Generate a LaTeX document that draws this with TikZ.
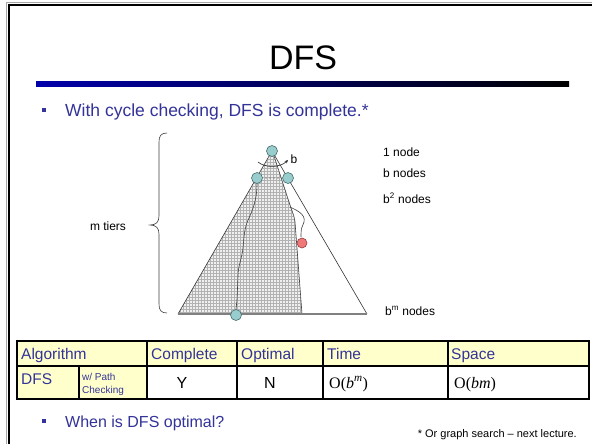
\documentclass[tikz,border=0pt]{standalone}
\usepackage{fontspec}
\setmainfont{Liberation Sans}
\newfontfamily\tnr{Liberation Serif}
\usetikzlibrary{arrows.meta,patterns}
\definecolor{txtblue}{RGB}{51,51,153}
\definecolor{cellyellow}{RGB}{255,255,204}
\definecolor{nodeteal}{RGB}{153,204,204}
\definecolor{nodeedge}{RGB}{70,110,110}
\definecolor{nodered}{RGB}{240,120,120}
\definecolor{rededge}{RGB}{150,60,60}
\definecolor{rulestart}{RGB}{0,0,170}
\begin{document}
\begin{tikzpicture}[x=1pt,y=-1pt,
  lbl/.style={inner sep=0, font=\fontsize{12}{14}\selectfont},
  bluetxt/.style={inner sep=0, text=txtblue},
  bulletsq/.style={fill=txtblue, minimum size=4.5pt, inner sep=0},
  searchnode/.style={circle, draw=nodeedge, fill=nodeteal, minimum size=11pt, inner sep=0, line width=0.6pt},
  rednode/.style={circle, draw=rededge, fill=nodered, minimum size=10pt, inner sep=0, line width=0.6pt},
  treeline/.style={draw=black!80, line width=0.6pt},
  pathline/.style={draw=black!75, line width=0.6pt},
  tabline/.style={draw=black, line width=1.6pt},
  celltxt/.style={inner sep=0, font=\fontsize{15.5}{18}\selectfont, text=txtblue},
  valtxt/.style={inner sep=0, font=\fontsize{16}{18}\selectfont}]
\useasboundingbox (0,0) rectangle (592,444);
\fill[white] (0,0) rectangle (592,444);
% slide frame
\draw[black!35, line width=1pt] (6,444) -- (6,3) -- (592,3);
\draw[black, line width=2pt] (8.5,444) -- (8.5,5) -- (592,5);
% title and rule
\node[inner sep=0, anchor=base, font=\fontsize{34}{39}\selectfont] (title) at (303,70) {DFS};
\shade[left color=rulestart, middle color=rulestart!75!black, right color=black] (36,82) rectangle (569,87);
% first bullet
\node[bulletsq] (b1) at (44,110) {};
\node[bluetxt, anchor=base west, font=\fontsize{17.5}{20}\selectfont] (t1) at (65,116) {With cycle checking, DFS is complete.*};
% brace
\draw[black!75, line width=0.6pt] (167,133) .. controls (161,133) and (159,136) .. (159,142) -- (159,216) .. controls (159,222) and (156,225) .. (150,225) .. controls (156,225) and (159,228) .. (159,234) -- (159,304) .. controls (159,310) and (161,313) .. (167,313);
\node[lbl] (mt) at (108,226) {m tiers};
% shaded explored region
\fill[gray!12] (272,152) -- (178,314) -- (302,314) -- (295,222) .. controls (294,216) .. (291,208) -- (274,156) -- cycle;
\fill[pattern=grid, pattern color=gray!60] (272,152) -- (178,314) -- (302,314) -- (295,222) .. controls (294,216) .. (291,208) -- (274,156) -- cycle;
\draw[pathline] (274,156) -- (291,208) .. controls (294,216) .. (295,222) -- (302,314);
% big triangle
\coordinate (apex) at (272,151);
\coordinate (bl) at (178,314);
\coordinate (br) at (367,314);
\draw[treeline] (bl) -- (apex) -- (br);
\draw[black!50, line width=1.3pt] (bl) -- (br);
% nodes
\node[searchnode] (root) at (272,151) {};
\node[searchnode] (lc) at (257,178) {};
\node[searchnode] (rc) at (288,178) {};
\node[searchnode] (leaf) at (236,315) {};
\coordinate (fork) at (290,207);
% paths
\draw[pathline] (lc.south) .. controls (257,195) and (255,205) .. (249,218) .. controls (244,228) and (244,238) .. (243,248) .. controls (242,258) and (238,266) .. (238,276) -- (237,300) -- (leaf.north);
\draw[pathline] (fork) .. controls (296,210) and (306,214) .. (304,222) .. controls (302,228) and (300,230) .. (301,234) -- (301,237);
\node[rednode] (red) at (302,243) {};
% branching arc
\draw[black!85, line width=0.6pt, -{Stealth[length=3.5pt,width=3pt]}] (258,162) .. controls (265,168) and (280,168) .. (288,160);
\node[lbl] (blbl) at (294,159) {b};
\foreach \x in {266,270,274,278} \fill[black!70] (\x,178) circle (0.7);
% level labels
\node[lbl, anchor=base west] (l1) at (383,156) {1 node};
\node[lbl, anchor=base west] (l2) at (383,177) {b nodes};
\node[lbl, anchor=base west] (l3) at (383,203) {b\textsuperscript{2} nodes};
\node[lbl, anchor=base west] (l4) at (385,315) {b\textsuperscript{m} nodes};
% table
\fill[cellyellow] (17,341) rectangle (589,366);
\fill[cellyellow] (17,366) rectangle (147,399);
\draw[tabline] (17,366) -- (589,366);
\foreach \x in {147,237,323,448} \draw[tabline] (\x,341) -- (\x,399);
\draw[tabline] (79,366) -- (79,399);
\draw[draw=black, line width=2.2pt] (17,341) rectangle (589,399);
\node[celltxt, anchor=base west] (h1) at (21,359) {Algorithm};
\node[celltxt, anchor=base west] (h2) at (151,359) {Complete};
\node[celltxt, anchor=base west] (h3) at (241,359) {Optimal};
\node[celltxt, anchor=base west] (h4) at (327,359) {Time};
\node[celltxt, anchor=base west] (h5) at (451,359) {Space};
\node[celltxt, anchor=base west] (dfs) at (21,384) {DFS};
\node[bluetxt, anchor=base west, font=\fontsize{10}{12}\selectfont] (wp) at (82,380) {w/ Path};
\node[bluetxt, anchor=base west, font=\fontsize{10}{12}\selectfont] (ck) at (82,393) {Checking};
\node[valtxt, anchor=base] (vy) at (182,388) {Y};
\node[valtxt, anchor=base] (vn) at (270,388) {N};
\node[valtxt, anchor=base west] (vt) at (329,388) {\tnr O(\textit{b}\textsuperscript{\textit{m}})};
\node[valtxt, anchor=base west] (vs) at (454,388) {\tnr O(\textit{bm})};
% second bullet and footnote
\node[bulletsq] (b2) at (44,421) {};
\node[bluetxt, anchor=base west, font=\fontsize{16}{19}\selectfont] (t2) at (65,427) {When is DFS optimal?};
\node[inner sep=0, anchor=base east, font=\fontsize{11}{13}\selectfont] (fn) at (577,437) {* Or graph search -- next lecture.};
\end{tikzpicture}
\end{document}
